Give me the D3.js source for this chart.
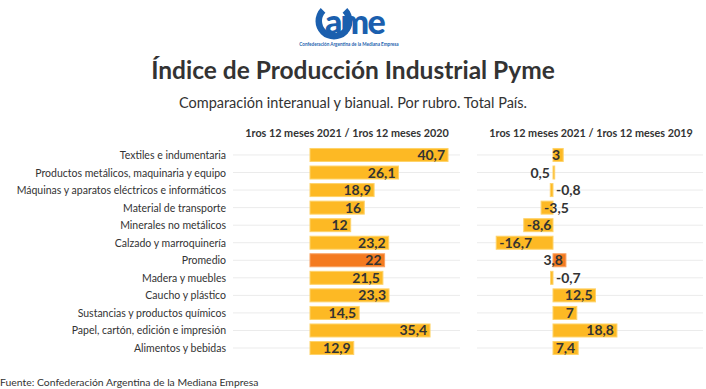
<!DOCTYPE html>
<html>
<head>
<meta charset="utf-8">
<script src="https://cdn.jsdelivr.net/npm/d3@7"></script>
<style>
  body { margin: 0; background: #fff; }
  svg text { font-family: Lato, "Open Sans", sans-serif; }
</style>
</head>
<body>
<div id="chart"></div>
<script>
var rubros = [
    "Textiles e indumentaria",
    "Productos metálicos, maquinaria y equipo",
    "Máquinas y aparatos eléctricos e informáticos",
    "Material de transporte",
    "Minerales no metálicos",
    "Calzado y marroquinería",
    "Promedio",
    "Madera y muebles",
    "Caucho y plástico",
    "Sustancias y productos químicos",
    "Papel, cartón, edición e impresión",
    "Alimentos y bebidas"
]
var vs2020 = [40.7, 26.1, 18.9, 16, 12, 23.2, 22, 21.5, 23.3, 14.5, 35.4, 12.9]
var vs2019 = [3, 0.5, -0.8, -3.5, -8.6, -16.7, 3.8, -0.7, 12.5, 7, 18.8, 7.4]

var width = 706, height = 389
var yellow = "#fdb924", orange = "#f47a20", ink = "#333"

var svg = d3.select("#chart").append("svg")
    .attr("width", width)
    .attr("height", height)

// logo (aprox.)
var logo = svg.append("g").attr("fill", "#1b5fae")
logo.append("path")
    .attr("d", d3.arc()({innerRadius: 12, outerRadius: 18.5, startAngle: 0.8, endAngle: 2 * Math.PI - 0.8}))
    .attr("transform", "translate(334,21)")
logo.append("text")
    .attr("x", 325).attr("y", 34)
    .attr("font-size", 34).attr("font-weight", 900)
    .attr("letter-spacing", -1.8)
    .text("ame")
logo.append("text")
    .attr("x", 349).attr("y", 46)
    .attr("text-anchor", "middle")
    .attr("font-size", 4.6).attr("font-weight", 700)
    .text("Confederación Argentina de la Mediana Empresa")

svg.append("text")
    .attr("x", 353).attr("y", 79)
    .attr("text-anchor", "middle")
    .attr("font-size", 24.5).attr("font-weight", 700)
    .attr("fill", ink)
    .text("Índice de Producción Industrial Pyme")

svg.append("text")
    .attr("x", 353).attr("y", 108)
    .attr("text-anchor", "middle")
    .attr("font-size", 14.5)
    .attr("fill", ink)
    .text("Comparación interanual y bianual. Por rubro. Total País.")

var y = d3.scaleBand()
    .domain(rubros)
    .range([146.2, 356.8])
    .paddingInner(0.26)
    .paddingOuter(0.13)

var xL = d3.scaleLinear().domain([0, 45]).range([310, 462.6])
var xR = d3.scaleLinear().domain([-20, 20]).range([485, 621])

function panel(xs, values, gx0, gx1, title, cx) {
    var g = svg.append("g")
    g.append("text")
        .attr("x", cx).attr("y", 137)
        .attr("text-anchor", "middle")
        .attr("font-size", 10.8).attr("font-weight", 700)
        .attr("fill", ink)
        .text(title)

    g.selectAll(".grid").data(rubros).join("line")
        .attr("x1", gx0).attr("x2", gx1)
        .attr("y1", function(d) { return y(d) + y.bandwidth() / 2 })
        .attr("y2", function(d) { return y(d) + y.bandwidth() / 2 })
        .attr("stroke", "#ebebeb")

    var rows = rubros.map(function(d, i) { return {name: d, v: values[i]} })

    g.selectAll(".bar").data(rows).join("rect")
        .attr("x", function(d) { return Math.min(xs(0), xs(d.v)) })
        .attr("width", function(d) { return Math.max(1, Math.abs(xs(d.v) - xs(0))) })
        .attr("y", function(d) { return y(d.name) })
        .attr("height", y.bandwidth())
        .attr("fill", function(d) { return d.name == "Promedio" ? orange : yellow })
        .attr("stroke", function(d) { return d.name == "Promedio" ? "#f8a060" : "#fed36a" })
        .attr("stroke-width", 1)

    g.selectAll(".val").data(rows).join("text")
        .attr("x", function(d) {
            if (Math.abs(d.v) < 1) return d.v > 0 ? xs(0) - 3 : xs(0) + 3
            return d.v > 0 ? xs(d.v) - 3 : xs(d.v) + 3
        })
        .attr("text-anchor", function(d) {
            return d.v > 0 ? "end" : "start"
        })
        .attr("y", function(d) { return y(d.name) + y.bandwidth() / 2 + 5 })
        .attr("font-size", 14).attr("font-weight", 700)
        .attr("fill", ink)
        .text(function(d) { return String(d.v).replace(".", ",") })
}

svg.append("g").selectAll("text").data(rubros).join("text")
    .attr("x", 226)
    .attr("y", function(d) { return y(d) + y.bandwidth() / 2 + 4 })
    .attr("text-anchor", "end")
    .attr("font-size", 10.5)
    .attr("fill", ink)
    .text(function(d) { return d })

panel(xL, vs2020, 233, 460, "1ros 12 meses 2021 / 1ros 12 meses 2020", 347)
panel(xR, vs2019, 477, 703, "1ros 12 meses 2021 / 1ros 12 meses 2019", 591)

svg.append("text")
    .attr("x", 0).attr("y", 386)
    .attr("font-size", 10.4)
    .attr("fill", ink)
    .text("Fuente: Confederación Argentina de la Mediana Empresa")
</script>
</body>
</html>
